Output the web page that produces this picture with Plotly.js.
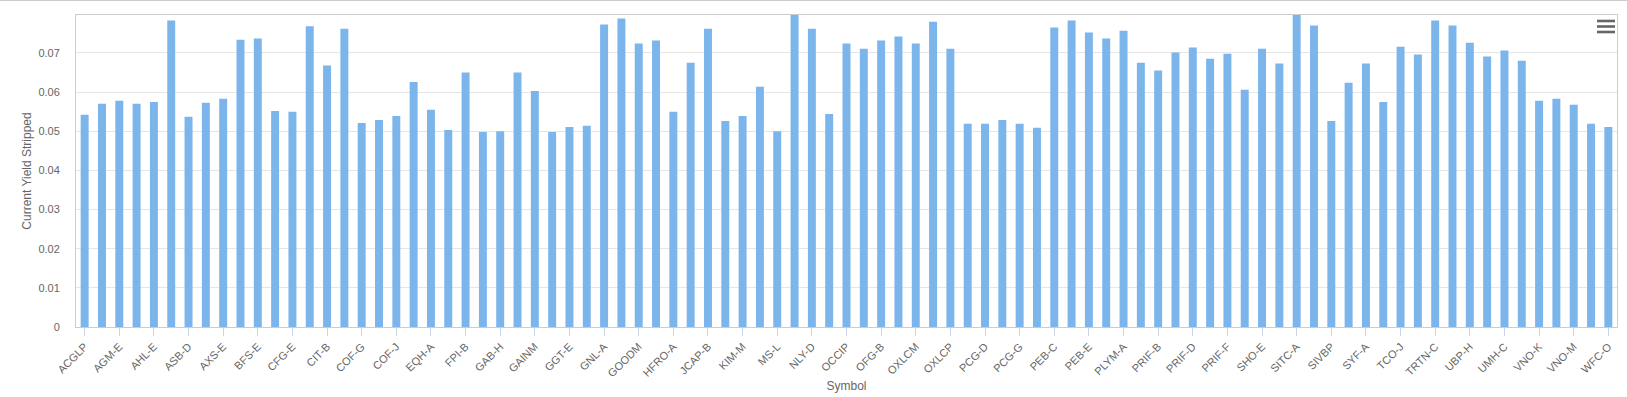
<!DOCTYPE html>
<html>
<head>
<meta charset="utf-8">
<script src="https://cdn.plot.ly/plotly-3.0.1.min.js"></script>
<style>
html,body{margin:0;padding:0;background:#fff;}
#chart{width:1627px;height:397px;}
</style>
</head>
<body>
<div id="chart"></div>
<script>
const symbols = [
  "ACGLP","AGM-D","AGM-E","AHL-D","AHL-E","AIC","ASB-D","ATH-A","AXS-E","BANC-E",
  "BFS-E","C-J","CFG-E","CHSCL","CIT-B","CMRE-E","COF-G","COF-I","COF-J","DSX-B",
  "EQH-A","FCNCP","FPI-B","GAB-G","GAB-H","GAINL","GAINM","GECCL","GGT-E","GLOP-C",
  "GNL-A","GNL-B","GOODM","GS-K","HFRO-A","HT-E","JCAP-B","KEY-K","KIM-M","MFA-B",
  "MS-L","NEWTL","NLY-D","NLY-F","OCCIP","OFG-A","OFG-B","OXLCL","OXLCM","OXLCO",
  "OXLCP","PCG-C","PCG-D","PCG-E","PCG-G","PCG-H","PEB-C","PEB-D","PEB-E","PEB-F",
  "PLYM-A","PRIF-A","PRIF-B","PRIF-C","PRIF-D","PRIF-E","PRIF-F","RC-C","SHO-E","SHO-F",
  "SITC-A","SITC-K","SIVBP","SLG-I","SYF-A","T-A","TCO-J","TCO-K","TRTN-C","TRTN-D",
  "UBP-H","UMH-B","UMH-C","UMH-D","VNO-K","VNO-L","VNO-M","WFC-N","WFC-O"
];
const currentYieldStripped = [
  0.0542,0.0570,0.0578,0.0570,0.0575,0.0783,0.0537,0.0573,0.0583,0.0734,
  0.0737,0.0552,0.0550,0.0768,0.0668,0.0762,0.0521,0.0529,0.0539,0.0626,
  0.0555,0.0503,0.0650,0.0498,0.0500,0.0650,0.0603,0.0498,0.0511,0.0514,
  0.0773,0.0788,0.0724,0.0732,0.0550,0.0675,0.0762,0.0526,0.0539,0.0614,
  0.0500,0.0797,0.0762,0.0544,0.0724,0.0711,0.0732,0.0742,0.0724,0.0780,
  0.0711,0.0519,0.0519,0.0529,0.0519,0.0509,0.0765,0.0783,0.0752,0.0737,
  0.0757,0.0675,0.0655,0.0701,0.0714,0.0685,0.0698,0.0606,0.0711,0.0673,
  0.0797,0.0770,0.0526,0.0624,0.0673,0.0575,0.0716,0.0696,0.0783,0.0770,
  0.0726,0.0691,0.0706,0.0680,0.0578,0.0583,0.0568,0.0519,0.0511
];
const labeledSymbols = symbols.filter((s, i) => i % 2 === 0);
const yTickVals = [0, 0.01, 0.02, 0.03, 0.04, 0.05, 0.06, 0.07];
const yTickText = ["0", "0.01", "0.02", "0.03", "0.04", "0.05", "0.06", "0.07"];

const FONT = "'Liberation Sans', Arial, Helvetica, sans-serif";

const trace = {
  type: "bar",
  x: symbols,
  y: currentYieldStripped,
  marker: {color: "#7cb5ec"},
  hoverinfo: "x+y"
};

const iconShapes = [21, 26.5, 32].map(py => ({
  type: "rect", xref: "paper", yref: "paper",
  x0: (1597 - 76) / 1541, x1: (1615 - 76) / 1541,
  y0: (327 - py - 1.3) / 312, y1: (327 - py + 1.3) / 312,
  fillcolor: "#666666", line: {width: 0}
}));

const layout = {
  width: 1627, height: 397,
  margin: {l: 76, r: 10, t: 15, b: 70},
  paper_bgcolor: "#ffffff",
  plot_bgcolor: "#ffffff",
  font: {family: FONT, size: 11, color: "#666666"},
  bargap: 0.54,
  showlegend: false,
  xaxis: {
    type: "category",
    tickmode: "array",
    tickvals: labeledSymbols,
    ticktext: labeledSymbols,
    tickangle: -45,
    ticks: "outside",
    ticklen: 8,
    tickcolor: "#ccd6eb",
    showgrid: false,
    showline: true,
    linecolor: "#cccccc",
    linewidth: 1,
    mirror: true,
    tickfont: {family: FONT, size: 11, color: "#666666"},
    title: {text: "Symbol", font: {family: FONT, size: 12, color: "#666666"}, standoff: 3},
    automargin: false
  },
  yaxis: {
    range: [0, 0.0797],
    tickmode: "array",
    tickvals: yTickVals,
    ticktext: yTickText,
    showgrid: true,
    gridcolor: "#e6e6e6",
    zeroline: false,
    showline: true,
    linecolor: "#cccccc",
    linewidth: 1,
    mirror: true,
    ticks: "",
    ticklabelstandoff: 13,
    tickfont: {family: FONT, size: 11, color: "#666666"},
    title: {text: "Current Yield Stripped", font: {family: FONT, size: 12, color: "#666666"}, standoff: 4},
    automargin: false
  },
  shapes: [
    {type: "line", xref: "paper", yref: "paper",
     x0: -76 / 1541, x1: 1 + 10 / 1541, y0: (327 - 0.5) / 312, y1: (327 - 0.5) / 312,
     line: {color: "#cccccc", width: 1}}
  ].concat(iconShapes)
};

Plotly.newPlot("chart", [trace], layout, {displayModeBar: false, responsive: false});
</script>
</body>
</html>
